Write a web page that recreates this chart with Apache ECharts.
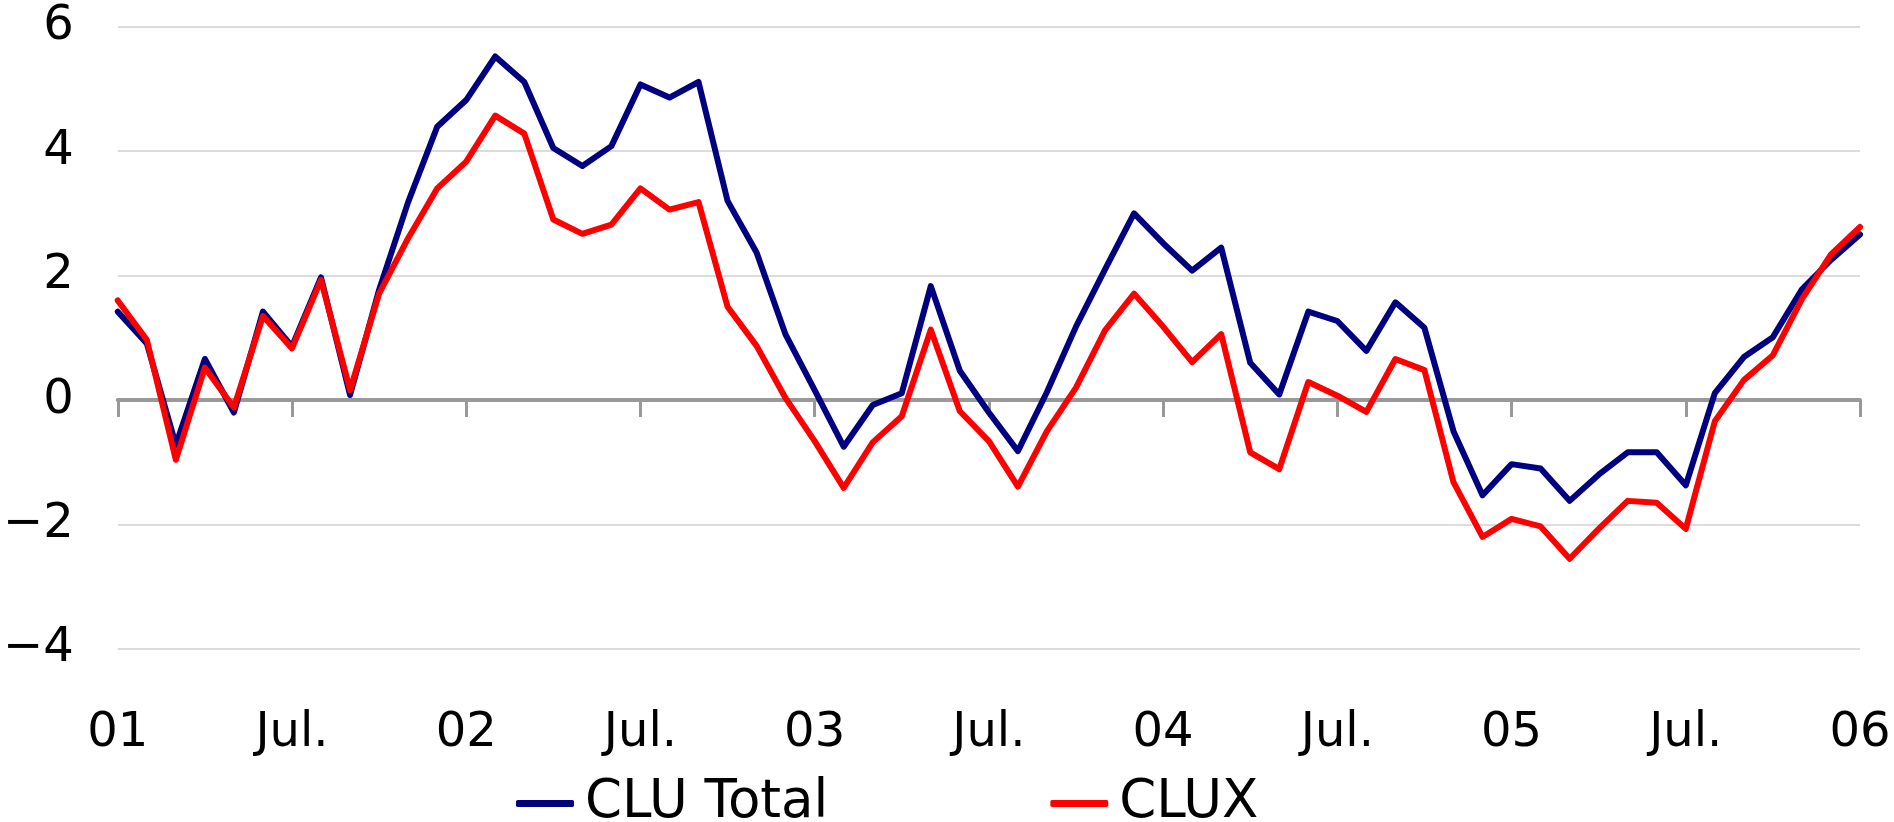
<!DOCTYPE html>
<html>
<head>
<meta charset="utf-8">
<script src="https://cdn.jsdelivr.net/npm/echarts@6/dist/echarts.min.js"></script>
<style>
  html, body { margin: 0; padding: 0; background: #fff; }
  #chart { width: 1894px; height: 822px; }
</style>
</head>
<body>
<div id="chart"></div>
<script>
// monthly data, Jan 2001 - Jan 2006
var tickLabels = ['01', 'Jul.', '02', 'Jul.', '03', 'Jul.', '04', 'Jul.', '05', 'Jul.', '06'];
var years = [2001, 2002, 2003, 2004, 2005, 2006];

var cluTotal = [1.42, 0.91, -0.72, 0.66, -0.2, 1.42, 0.86, 1.97, 0.08, 1.77,
  3.18, 4.39, 4.82, 5.52, 5.11, 4.05, 3.76, 4.08, 5.07, 4.86,
  5.11, 3.2, 2.37, 1.05, 0.16, -0.75, -0.08, 0.11, 1.83, 0.47,
  -0.2, -0.82, 0.13, 1.18, 2.1, 3.0, 2.52, 2.08, 2.45, 0.6,
  0.09, 1.42, 1.27, 0.79, 1.57, 1.16, -0.5, -1.53, -1.03, -1.1,
  -1.62, -1.2, -0.84, -0.84, -1.37, 0.11, 0.69, 1.01, 1.78, 2.25,
  2.66];

var clux = [1.6, 0.97, -0.96, 0.52, -0.12, 1.35, 0.83, 1.93, 0.16, 1.71,
  2.6, 3.4, 3.83, 4.57, 4.28, 2.9, 2.67, 2.82, 3.4, 3.06,
  3.18, 1.5, 0.87, 0.03, -0.66, -1.41, -0.68, -0.26, 1.13, -0.18,
  -0.66, -1.39, -0.5, 0.2, 1.12, 1.71, 1.18, 0.61, 1.06, -0.84,
  -1.11, 0.29, 0.07, -0.19, 0.66, 0.48, -1.32, -2.2, -1.91, -2.03,
  -2.55, -2.07, -1.62, -1.65, -2.07, -0.34, 0.32, 0.72, 1.62, 2.34,
  2.78];

// category per month
var months = [];
for (var i = 0; i < years.length; i++) {
  for (var m = 1; m <= 12; m++) {
    if (years[i] === 2006 && m > 1) break;
    months.push(years[i] + '-' + (m < 10 ? '0' + m : m));
  }
}

var font = '"DejaVu Sans", Verdana, sans-serif';
var chart = echarts.init(document.getElementById('chart'));

var option = {
  animation: false,
  textStyle: { fontFamily: font },
  grid: { left: 115, right: 34, top: 26.6, bottom: 173 },
  legend: {
    left: 511,
    top: 772,
    itemGap: 222,
    itemWidth: 58,
    itemHeight: 7,
    icon: 'roundRect',
    textStyle: { fontSize: 53, color: '#000', fontFamily: font, padding: [0, 0, 0, 6] },
    data: ['CLU Total', 'CLUX']
  },
  xAxis: [
    {
      type: 'category',
      data: months,
      boundaryGap: false,
      axisLine: { onZero: true, lineStyle: { color: '#999999', width: 4 } },
      axisTick: { show: true, interval: 5, length: 17, lineStyle: { color: '#999999', width: 3 } },
      axisLabel: { show: false },
      splitLine: { show: false }
    },
    {
      type: 'category',
      data: months,
      boundaryGap: false,
      position: 'bottom',
      axisLine: { show: false, onZero: false },
      axisTick: { show: false },
      axisLabel: {
        interval: 5,
        margin: 61,
        fontSize: 48,
        color: '#000',
        fontFamily: font,
        formatter: function (v, idx) {
          return idx % 6 === 0 ? tickLabels[idx / 6] : '';
        }
      },
      splitLine: { show: false }
    }
  ],
  yAxis: {
    type: 'value',
    min: -4,
    max: 6,
    interval: 2,
    axisLine: { show: false },
    axisTick: { show: false },
    axisLabel: {
      margin: 44,
      fontSize: 48,
      color: '#000',
      fontFamily: font,
      padding: [16, 0, 0, 0],
      formatter: function (v) {
        return v < 0 ? '\u2212' + Math.abs(v) : String(v);
      }
    },
    splitLine: { lineStyle: { color: '#d0d0d0', width: 1.5 } }
  },
  series: [
    {
      name: 'CLU Total',
      type: 'line',
      xAxisIndex: 0,
      data: cluTotal,
      symbol: 'none',
      color: '#000080',
      lineStyle: { color: '#000080', width: 6, join: 'round', cap: 'round' }
    },
    {
      name: 'CLUX',
      type: 'line',
      xAxisIndex: 0,
      data: clux,
      symbol: 'none',
      color: '#ff0000',
      lineStyle: { color: '#ff0000', width: 6, join: 'round', cap: 'round' }
    }
  ]
};

chart.setOption(option);
</script>
</body>
</html>
